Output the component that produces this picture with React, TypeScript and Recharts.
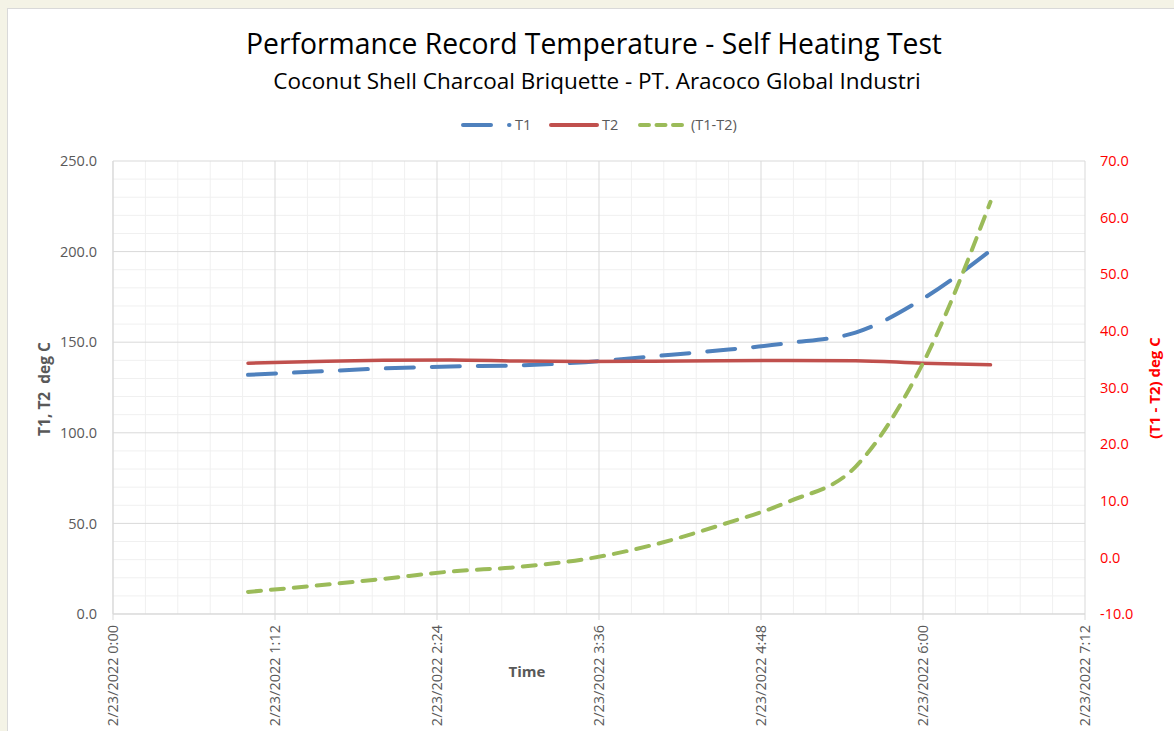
import React from "react";
import { LineChart, Line, XAxis, YAxis, CartesianGrid } from "recharts";

// ---- data ----
const timeHours = [1.0, 1.5, 2.0, 2.5, 3.0, 3.5, 4.0, 4.5, 5.0, 5.5, 6.0, 6.5];
const t1Values = [132.0, 133.8, 135.5, 136.6, 137.2, 139.0, 142.2, 145.5, 149.5, 155.3, 174.0, 200.6];
const t2Values = [138.4, 139.3, 140.0, 140.2, 139.6, 139.3, 139.5, 139.8, 139.9, 139.8, 138.4, 137.5];
const diffValues = [-6.1, -5.0, -3.8, -2.5, -1.7, -0.3, 2.2, 5.7, 9.8, 16.0, 34.3, 62.8];

const xTicks = [0, 1.2, 2.4, 3.6, 4.8, 6.0, 7.2];
const xMinor = [0.24, 0.48, 0.72, 0.96, 1.44, 1.68, 1.92, 2.16, 2.64, 2.88, 3.12, 3.36, 3.84, 4.08, 4.32, 4.56, 5.04, 5.28, 5.52, 5.76, 6.24, 6.48, 6.72, 6.96];
const leftTicks = [0, 50, 100, 150, 200, 250];
const leftMinor = [10, 20, 30, 40, 60, 70, 80, 90, 110, 120, 130, 140, 160, 170, 180, 190, 210, 220, 230, 240];
const rightTicks = [-10, 0, 10, 20, 30, 40, 50, 60, 70];
const datePrefix = "2/23/2022";

const titleText = "Performance Record Temperature - Self Heating Test";
const subtitleText = "Coconut Shell Charcoal Briquette - PT. Aracoco Global Industri";
const seriesNames = ["T1", "T2", "(T1-T2)"];
const leftAxisTitle = "T1, T2\u00A0\u00A0deg C";
const rightAxisTitle = "(T1 - T2) deg C";
const xAxisTitle = "Time";

const data = timeHours.map((t, i) => ({
  t,
  T1: t1Values[i],
  T2: t2Values[i],
  D: diffValues[i],
}));

const FONT = "'Open Sans', 'Noto Sans', sans-serif";
const GRAY = "#595959";
const BLUE = "#4F81BD";
const RED = "#C0504D";
const GREEN = "#9BBB59";

const fmtTime = (h: number) => {
  const totalMin = Math.round(h * 60);
  const hh = Math.floor(totalMin / 60);
  const mm = totalMin % 60;
  return `${datePrefix} ${hh}:${mm < 10 ? "0" + mm : mm}`;
};

const XTick = (props: any) => {
  const { x, y, payload } = props;
  return (
    <text
      x={0}
      y={0}
      transform={`translate(${x},${y}) rotate(-90)`}
      textAnchor="end"
      dy="0.35em"
      fill={GRAY}
      fontSize={14.5}
      fontFamily={FONT}
    >
      {fmtTime(payload.value)}
    </text>
  );
};

const abs = (s: React.CSSProperties): React.CSSProperties => ({ position: "absolute", ...s });

export default function App() {
  return (
    <div style={abs({ left: 0, top: 0, width: 1174, height: 731, overflow: "hidden", background: "#F4F3E6", fontFamily: FONT })}>
      <div style={abs({ left: 7, top: 8, width: 1190, height: 760, background: "#FFFFFF", border: "1px solid #D9D9D9" })} />
      <div style={abs({ left: 0, top: 0 })}>
        <LineChart width={1174} height={731} data={data} margin={{ top: 161, right: 0, bottom: 0, left: 0 }}>
          <CartesianGrid stroke="#F0F0F0" strokeWidth={1} horizontalValues={leftMinor} verticalValues={xMinor} />
          <CartesianGrid stroke="#D9D9D9" strokeWidth={1} />
          <XAxis
            dataKey="t"
            type="number"
            domain={[0, 7.2]}
            ticks={xTicks}
            height={117}
            tick={<XTick />}
            tickSize={6}
            tickMargin={5}
            axisLine={{ stroke: "#D9D9D9" }}
            tickLine={{ stroke: "#D9D9D9" }}
            interval={0}
          />
          <YAxis
            domain={[0, 250]}
            ticks={leftTicks}
            width={113}
            tickFormatter={(v: number) => v.toFixed(1)}
            tick={{ fill: GRAY, fontSize: 14.5, fontFamily: FONT }}
            tickLine={false}
            tickSize={0}
            tickMargin={16}
            axisLine={{ stroke: "#D9D9D9" }}
            interval={0}
          />
          <YAxis
            yAxisId="right"
            orientation="right"
            domain={[-10, 70]}
            ticks={rightTicks}
            width={89}
            tickFormatter={(v: number) => v.toFixed(1)}
            tick={{ fill: "#FF0000", fontSize: 14.5, fontFamily: FONT, textAnchor: "start" }}
            tickLine={false}
            tickSize={0}
            tickMargin={15}
            axisLine={false}
            interval={0}
          />
          <Line
            dataKey="T1"
            name={seriesNames[0]}
            type="monotone"
            stroke={BLUE}
            strokeWidth={4}
            strokeDasharray="28 18"
            strokeLinecap="round"
            dot={false}
            activeDot={false}
            isAnimationActive={false}
          />
          <Line
            dataKey="T2"
            name={seriesNames[1]}
            type="monotone"
            stroke={RED}
            strokeWidth={3.5}
            strokeLinecap="round"
            dot={false}
            activeDot={false}
            isAnimationActive={false}
          />
          <Line
            dataKey="D"
            yAxisId="right"
            name={seriesNames[2]}
            type="monotone"
            stroke={GREEN}
            strokeWidth={4}
            strokeDasharray="13 10"
            strokeLinecap="round"
            dot={false}
            activeDot={false}
            isAnimationActive={false}
          />
        </LineChart>
      </div>

      {/* titles */}
      <div style={abs({ left: 594, top: 43, transform: "translate(-50%,-50%)", whiteSpace: "nowrap", fontSize: 28.3, color: "#000" })}>
        {titleText}
      </div>
      <div style={abs({ left: 597, top: 80, transform: "translate(-50%,-50%)", whiteSpace: "nowrap", fontSize: 22.5, color: "#000" })}>
        {subtitleText}
      </div>

      {/* legend */}
      <svg style={abs({ left: 0, top: 110 })} width={1174} height={30}>
        <line x1={463} y1={15} x2={509.5} y2={15} stroke={BLUE} strokeWidth={4} strokeDasharray="28 18" strokeLinecap="round" />
        <text x={515} y={15} dy="0.35em" fill={GRAY} fontSize={14.5} fontFamily={FONT}>{seriesNames[0]}</text>
        <line x1={551} y1={15} x2={597} y2={15} stroke={RED} strokeWidth={4} strokeLinecap="round" />
        <text x={602} y={15} dy="0.35em" fill={GRAY} fontSize={14.5} fontFamily={FONT}>{seriesNames[1]}</text>
        <line x1={640} y1={15} x2={682} y2={15} stroke={GREEN} strokeWidth={4} strokeDasharray="9 7.5" strokeLinecap="round" />
        <text x={691} y={15} dy="0.35em" fill={GRAY} fontSize={14.5} fontFamily={FONT}>{seriesNames[2]}</text>
      </svg>

      {/* axis titles */}
      <svg style={abs({ left: 0, top: 0, pointerEvents: "none" })} width={1174} height={731}>
        <text x={0} y={0} transform="translate(45,389) rotate(-90)" textAnchor="middle" dy="0.35em" fill={GRAY} fontSize={15.5} fontWeight="bold" fontFamily={FONT}>
          {leftAxisTitle}
        </text>
        <text x={0} y={0} transform="translate(1155,388) rotate(-90)" textAnchor="middle" dy="0.35em" fill="#FF0000" fontSize={15} fontWeight="bold" fontFamily={FONT}>
          {rightAxisTitle}
        </text>
        <text x={527} y={672} textAnchor="middle" dy="0.35em" fill={GRAY} fontSize={15} fontWeight="bold" fontFamily={FONT}>
          {xAxisTitle}
        </text>
      </svg>
    </div>
  );
}
